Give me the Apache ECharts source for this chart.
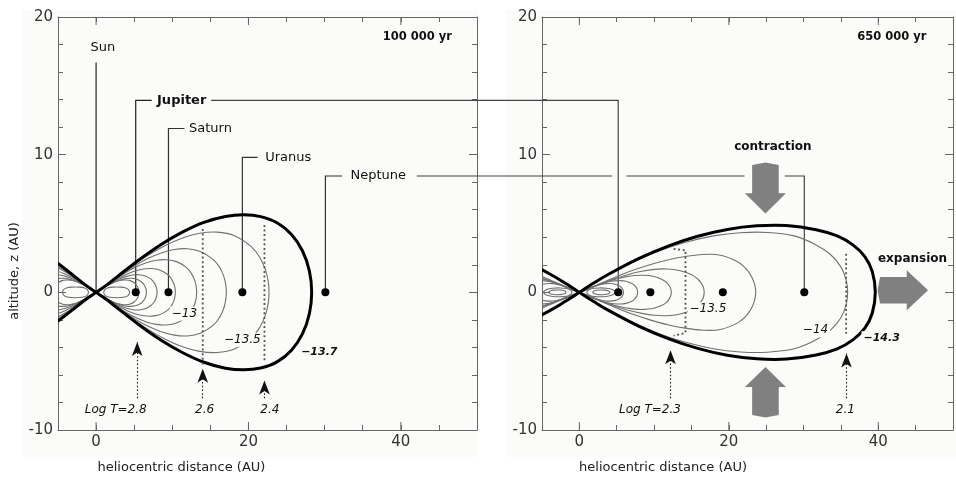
<!DOCTYPE html>
<html>
<head>
<meta charset="utf-8">
<script src="https://cdn.jsdelivr.net/npm/echarts@6/dist/echarts.min.js"></script>
<style>
  html, body { margin: 0; padding: 0; background: #ffffff; }
  #chart { width: 956px; height: 479px; }
</style>
</head>
<body>
<div id="chart"></div>
<script>
// ---------- tick labels ----------
const xTickLabels = [0, 20, 40];
const yTickLabels = [-10, 0, 10, 20];

// ---------- planets: heliocentric distance (AU), midplane ----------
const planetNames = ['Jupiter', 'Saturn', 'Uranus', 'Neptune'];
const planetAU = [5.2, 9.5, 19.2, 30.1];

// ---------- 100 000 yr: log density contours, upper half (r AU, z AU) ----------
const early137 = [[0,0],[1.42,0.54],[2.83,1.16],[5.66,2.37],[8.49,3.46],[11.32,4.37],[14.15,5.08],[16.98,5.51],[19.4,5.63],[21.6,5.5],[23.75,5.05],[25.65,4.2],[27.1,3.0],[28.0,1.55],[28.3,0]];
const early135 = [[0,0],[1.14,0.42],[2.27,0.9],[4.54,1.85],[6.81,2.69],[9.08,3.4],[11.35,3.95],[13.62,4.29],[15.89,4.37],[18.16,4.11],[20.43,3.29],[21.57,2.46],[22.25,1.6],[22.59,0.82],[22.7,0]];
const early1325 = [[0,0],[0.86,0.3],[1.71,0.65],[3.42,1.34],[5.13,1.95],[6.84,2.47],[8.55,2.86],[10.26,3.11],[11.97,3.17],[13.68,2.97],[15.39,2.38],[16.25,1.78],[16.76,1.16],[17.01,0.59],[17.1,0]];
const early13 = [[0,0],[0.66,0.23],[1.32,0.49],[2.64,1.0],[3.96,1.46],[5.28,1.85],[6.6,2.15],[7.92,2.33],[9.24,2.37],[10.56,2.23],[11.88,1.79],[12.54,1.34],[12.94,0.87],[13.13,0.44],[13.2,0]];
const early1275 = [[0,0],[0.52,0.17],[1.04,0.36],[2.08,0.73],[3.12,1.07],[4.16,1.35],[5.2,1.57],[6.24,1.7],[7.28,1.73],[8.32,1.63],[9.36,1.31],[9.88,0.98],[10.19,0.64],[10.35,0.32],[10.4,0]];
const early125 = [[0,0],[0.4,0.12],[0.8,0.26],[1.6,0.54],[2.4,0.79],[3.2,1.0],[4.0,1.16],[4.8,1.26],[5.6,1.28],[6.4,1.2],[7.2,0.96],[7.6,0.72],[7.84,0.47],[7.96,0.24],[8.0,0]];
const early1225 = [[0,0],[0.33,0.1],[0.66,0.21],[1.32,0.43],[1.98,0.63],[2.64,0.79],[3.3,0.92],[3.96,1.0],[4.62,1.02],[5.28,0.96],[5.94,0.77],[6.27,0.57],[6.47,0.37],[6.57,0.19],[6.6,0]];
const early12 = [[0,0],[0.28,0.09],[0.56,0.19],[1.12,0.38],[1.68,0.56],[2.24,0.7],[2.8,0.82],[3.36,0.89],[3.92,0.9],[4.48,0.85],[5.04,0.68],[5.32,0.51],[5.49,0.33],[5.57,0.17],[5.6,0]];
const earlyCore = [[1.0,0],[1.15,0.2],[1.5,0.32],[2.2,0.38],[3.2,0.38],[3.9,0.32],[4.25,0.2],[4.4,0]];

// ---------- 650 000 yr: log density contours, upper half ----------
const late143 = [[0,0],[1.98,0.69],[3.96,1.33],[7.92,2.45],[11.88,3.36],[15.84,4.07],[19.8,4.57],[23.76,4.83],[27.72,4.85],[31.68,4.55],[34.5,4.1],[36.6,3.45],[38.2,2.6],[39.2,1.5],[39.6,0]];
const late14 = [[0,0],[1.8,0.62],[3.59,1.19],[7.18,2.2],[10.77,3.02],[14.36,3.65],[17.95,4.1],[21.54,4.33],[25.13,4.35],[28.72,4.1],[31.5,3.5],[33.6,2.75],[35.0,1.85],[35.7,0.9],[35.9,0]];
const late1375 = [[0,0],[1.18,0.25],[2.36,0.53],[4.72,1.08],[7.08,1.58],[9.44,2.0],[11.8,2.35],[14.16,2.6],[16.52,2.75],[18.88,2.7],[21.24,2.2],[22.42,1.65],[23.13,1.05],[23.48,0.52],[23.6,0]];
const late135 = [[0,0],[0.84,0.16],[1.67,0.35],[3.34,0.72],[5.01,1.04],[6.68,1.32],[8.35,1.53],[10.02,1.67],[11.69,1.7],[13.36,1.59],[15.03,1.28],[15.87,0.95],[16.37,0.62],[16.62,0.32],[16.7,0]];
const late1325 = [[0,0],[0.62,0.12],[1.23,0.26],[2.46,0.53],[3.69,0.77],[4.92,0.97],[6.15,1.12],[7.38,1.22],[8.61,1.24],[9.84,1.17],[11.07,0.94],[11.69,0.7],[12.05,0.46],[12.24,0.23],[12.3,0]];
const late13 = [[0,0],[0.39,0.08],[0.78,0.18],[1.56,0.36],[2.34,0.52],[3.12,0.66],[3.9,0.77],[4.68,0.83],[5.46,0.85],[6.24,0.8],[7.02,0.64],[7.41,0.48],[7.64,0.31],[7.76,0.16],[7.8,0]];
const late1275 = [[0,0],[0.3,0.06],[0.59,0.13],[1.18,0.27],[1.77,0.39],[2.36,0.5],[2.95,0.58],[3.54,0.63],[4.13,0.64],[4.72,0.6],[5.31,0.48],[5.61,0.36],[5.78,0.24],[5.87,0.12],[5.9,0]];
const lateCoreA = [[1.0,0],[1.2,0.17],[1.7,0.28],[2.6,0.32],[3.6,0.3],[4.4,0.2],[4.8,0]];
const lateCoreB = [[1.8,0],[2.0,0.11],[2.6,0.17],[3.4,0.16],[3.9,0.1],[4.1,0]];

// ---------- isotherms (dotted) ----------
const isoEarly26 = [[14.0,4.6],[14.0,-5.3]];
const isoEarly24 = [[22.1,4.9],[22.1,-5.1]];
const isoLate23 = [[12.6,3.15],[14.2,3.05],[14.2,-2.95],[12.6,-3.15]];
const isoLate21 = [[35.7,2.8],[35.7,-3.0]];

// ---------- temperature markers ----------
const earlyLogT = ['Log T=2.8', '2.6', '2.4'];
const earlyLogTr = [5.4, 14.0, 22.1];
const earlyLogTtip = [-3.6, -5.55, -6.4];
const lateLogT = ['Log T=2.3', '2.1'];
const lateLogTr = [12.2, 35.75];
const lateLogTtip = [-4.2, -4.45];

const FONT = '"DejaVu Sans", sans-serif';
const AXIS_COLOR = '#666';
const THIN = '#707070';

// closed loop from an upper half (mirror in z)
function loop(up) {
  const lower = up.slice(0, -1).reverse().map(p => [p[0], -p[1]]);
  return up.concat(lower);
}
// same loop reflected to the other side of the star
function mirrorX(pts) { return pts.map(p => [-p[0], p[1]]); }

// Catmull-Rom spline through pixel points, as an SVG path string
function splinePath(px, closed) {
  const n = px.length;
  const get = i => closed ? px[(i + n) % n] : px[Math.max(0, Math.min(n - 1, i))];
  let d = 'M' + px[0][0] + ',' + px[0][1];
  const segs = closed ? n : n - 1;
  for (let i = 0; i < segs; i++) {
    const p0 = get(i - 1), p1 = get(i), p2 = get(i + 1), p3 = get(i + 2);
    const c1 = [p1[0] + (p2[0] - p0[0]) / 6, p1[1] + (p2[1] - p0[1]) / 6];
    const c2 = [p2[0] - (p3[0] - p1[0]) / 6, p2[1] - (p3[1] - p1[1]) / 6];
    d += ' C' + c1[0] + ',' + c1[1] + ' ' + c2[0] + ',' + c2[1] + ' ' + p2[0] + ',' + p2[1];
  }
  if (closed) d += ' Z';
  return d;
}

function axesFor(gridIndex) {
  const xBase = {
    gridIndex, type: 'value', min: -5, max: 50, interval: 5,
    axisLine: { show: true, onZero: false, lineStyle: { color: AXIS_COLOR, width: 1 } },
    axisTick: { show: true, inside: true, length: 5, lineStyle: { color: AXIS_COLOR } },
    splitLine: { show: false }
  };
  const yBase = {
    gridIndex, type: 'value', min: -10, max: 20, interval: 10,
    axisLine: { show: true, onZero: false, lineStyle: { color: AXIS_COLOR, width: 1 } },
    axisTick: { show: true, inside: true, length: 8, lineStyle: { color: AXIS_COLOR } },
    minorTick: { show: true, splitNumber: 5, length: 5, lineStyle: { color: AXIS_COLOR } },
    splitLine: { show: false }, minorSplitLine: { show: false }
  };
  const x = [
    Object.assign({}, xBase, { position: 'bottom',
      axisLabel: { show: true, margin: 5, fontSize: 15, color: '#333', fontFamily: FONT,
        formatter: v => (xTickLabels.indexOf(v) >= 0 ? String(v) : '') } }),
    Object.assign({}, xBase, { position: 'top', axisLabel: { show: false } })
  ];
  const y = [
    Object.assign({}, yBase, { position: 'left',
      axisLabel: { show: true, margin: 5, fontSize: 15, color: '#333', fontFamily: FONT,
        formatter: v => (yTickLabels.indexOf(v) >= 0 ? String(v) : '') } }),
    Object.assign({}, yBase, { position: 'right', axisLabel: { show: false } })
  ];
  return { x, y };
}

const a0 = axesFor(0), a1 = axesFor(1);

// one contour = one custom series, drawn as a smooth path through its points
function contourSeries(pts, axis, thick, closed) {
  const ring = closed ? pts.slice(0, -1) : pts;
  return {
    type: 'custom', xAxisIndex: axis, yAxisIndex: axis, silent: true, z: thick ? 4 : 3,
    data: ring,
    renderItem: (params, api) => {
      if (params.dataIndex !== 0) return null;
      const px = ring.map(p => api.coord(p));
      const cs = params.coordSys;
      return {
        type: 'group',
        clipPath: { type: 'rect', shape: { x: cs.x, y: cs.y, width: cs.width, height: cs.height } },
        children: [{
          type: 'path', shape: { pathData: splinePath(px, closed) },
          style: { stroke: thick ? '#000' : THIN, lineWidth: thick ? 3 : 1.1, fill: null }
        }]
      };
    }
  };
}

function contourPair(up, axis, thick, closed) {
  return [contourSeries(loop(up), axis, thick, closed), contourSeries(mirrorX(loop(up)), axis, thick, closed)];
}

function isoSeries(pts, axis, arrows) {
  return {
    type: 'line', xAxisIndex: axis, yAxisIndex: axis, symbol: 'none', silent: true, z: 5,
    data: pts, lineStyle: { color: '#555', width: 1.8, type: [2, 2.6] },
    markLine: arrows ? {
      silent: true, symbol: ['none', 'arrow'], symbolSize: [8, 14],
      label: { show: false },
      lineStyle: { color: '#111', width: 1.1, type: [1.5, 2.2] },
      data: arrows
    } : undefined
  };
}

function arrowData(rs, tips) {
  return rs.map((r, i) => [{ coord: [r, -7.7] }, { coord: [r, tips[i]] }]);
}

function majorTickSeries(axis) {
  return {
    type: 'custom', xAxisIndex: axis, yAxisIndex: axis, silent: true, z: 6,
    data: xTickLabels.map(v => [v, 0]),
    renderItem: (params, api) => {
      const x = api.value(0);
      const b = api.coord([x, -10]);
      const t = api.coord([x, 20]);
      return {
        type: 'group',
        children: [
          { type: 'line', shape: { x1: b[0], y1: b[1], x2: b[0], y2: b[1] - 8 }, style: { stroke: AXIS_COLOR, lineWidth: 1 } },
          { type: 'line', shape: { x1: t[0], y1: t[1], x2: t[0], y2: t[1] + 8 }, style: { stroke: AXIS_COLOR, lineWidth: 1 } }
        ]
      };
    }
  };
}

function planetSeries(axis) {
  return {
    type: 'scatter', xAxisIndex: axis, yAxisIndex: axis, silent: true, z: 8,
    symbolSize: 8, itemStyle: { color: '#000', opacity: 1 },
    data: planetAU.map((d, i) => ({ name: planetNames[i], value: [d, 0] }))
  };
}

const series = [].concat(
  [planetSeries(0)], // index 0
  [planetSeries(2)], // index 1
  contourPair(early137, 0, true, false),
  contourPair(early135, 0, false, false),
  contourPair(early1325, 0, false, false),
  contourPair(early13, 0, false, false),
  contourPair(early1275, 0, false, false),
  contourPair(early125, 0, false, false),
  contourPair(early1225, 0, false, false),
  contourPair(early12, 0, false, false),
  contourPair(earlyCore, 0, false, true),
  contourPair(late143, 2, true, false),
  contourPair(late14, 2, false, false),
  contourPair(late1375, 2, false, false),
  contourPair(late135, 2, false, false),
  contourPair(late1325, 2, false, false),
  contourPair(late13, 2, false, false),
  contourPair(late1275, 2, false, false),
  contourPair(lateCoreA, 2, false, true),
  contourPair(lateCoreB, 2, false, true),
  [isoSeries(isoEarly26, 0, arrowData(earlyLogTr, earlyLogTtip)),
   isoSeries(isoEarly24, 0, null),
   isoSeries(isoLate23, 2, arrowData(lateLogTr, lateLogTtip)),
   isoSeries(isoLate21, 2, null),
   majorTickSeries(0), majorTickSeries(2)]
);

const chart = echarts.init(document.getElementById('chart'), null, { renderer: 'canvas' });
chart.setOption({
  animation: false,
  backgroundColor: '#ffffff',
  grid: [
    { left: 58, top: 17, width: 419, height: 413, containLabel: false },
    { left: 542, top: 17, width: 423.5, height: 413, containLabel: false }
  ],
  xAxis: [a0.x[0], a0.x[1], a1.x[0], a1.x[1]],
  yAxis: [a0.y[0], a0.y[1], a1.y[0], a1.y[1]],
  series
});

// ---------- annotations placed from data coordinates ----------
const L = p => chart.convertToPixel({ seriesIndex: 0 }, p);
const R = p => chart.convertToPixel({ seriesIndex: 1 }, p);

function poly(points, color, width) {
  return { type: 'polyline', silent: true, z: 1, shape: { points },
    style: { stroke: color || '#333', lineWidth: width || 1.2, fill: null } };
}
function txt(p, text, opts) {
  return { type: 'text', silent: true, z: 20, x: p[0], y: p[1],
    style: Object.assign({ text, fontFamily: FONT, fontSize: 13, fill: '#111',
      align: 'left', verticalAlign: 'middle' }, opts || {}) };
}
function blockArrow(tip, pts) {
  return { type: 'polygon', silent: true, z: 15,
    shape: { points: pts.map(q => [tip[0] + q[0], tip[1] + q[1]]) },
    style: { fill: '#808080', stroke: null } };
}

const jup = planetAU[0], sat = planetAU[1], ura = planetAU[2], nep = planetAU[3];
const zJ = 13.95, zS = 11.9, zU = 9.8, zN = 8.45;

const g = [];
// panel backdrops
g.push({ type: 'rect', silent: true, z: -10, shape: { x: 22, y: 10, width: 455, height: 447 }, style: { fill: '#fbfbf9' } });
g.push({ type: 'rect', silent: true, z: -10, shape: { x: 506, y: 10, width: 450, height: 447 }, style: { fill: '#fbfbf9' } });

// leader lines
g.push(poly([L([0, 16.7]), L([0, 0])], '#222'));
g.push(poly([L([7.3, zJ]), L([jup, zJ]), L([jup, 0])], '#222'));
g.push(poly([L([15.1, zJ]), R([jup, zJ]), R([jup, 0])], '#444'));
g.push(poly([L([sat, 0]), L([sat, zS]), L([11.6, zS])], '#333'));
g.push(poly([L([ura, 0]), L([ura, zU]), L([21.2, zU])], '#333'));
g.push(poly([L([nep, 0]), L([nep, zN]), L([32.3, zN])], '#333'));
g.push(poly([L([42.1, zN]), R([4.4, zN])], '#444'));
g.push(poly([R([6.3, zN]), R([22.1, zN])], '#444'));
g.push(poly([R([27.5, zN]), R([nep, zN]), R([nep, 0])], '#444'));

// planet and star names
g.push(txt(L([0.9, 17.75]), 'Sun', { align: 'center' }));
g.push(txt(L([8.0, zJ]), 'Jupiter', { fontWeight: 'bold' }));
g.push(txt(L([12.2, zS]), 'Saturn'));
g.push(txt(L([22.2, zU]), 'Uranus'));
g.push(txt(L([33.4, zN]), 'Neptune'));

// epoch labels
g.push(txt(L([46.7, 18.54]), '100 000 yr', { align: 'right', fontWeight: 'bold', fontSize: 11.5 }));
g.push(txt(R([46.45, 18.54]), '650 000 yr', { align: 'right', fontWeight: 'bold', fontSize: 11.5 }));

// contour level labels
const boxed = { backgroundColor: '#fbfbf9', padding: [1, 2], fontStyle: 'italic', fontSize: 12, align: 'center' };
g.push(txt(L([11.6, -1.55]), '\u221213', boxed));
g.push(txt(L([19.2, -3.45]), '\u221213.5', boxed));
g.push(txt(L([29.3, -4.33]), '\u221213.7', Object.assign({}, boxed, { fontWeight: 'bold', fontSize: 11 })));
g.push(txt(R([17.2, -1.23]), '\u221213.5', boxed));
g.push(txt(R([31.6, -2.76]), '\u221214', boxed));
g.push(txt(R([40.45, -3.3]), '\u221214.3', Object.assign({}, boxed, { fontWeight: 'bold', fontSize: 11 })));

// temperature labels
const earlyLabelR = [2.57, 14.25, 22.8];
earlyLogT.forEach((s, i) => g.push(txt(L([earlyLabelR[i], -8.57]), s, { align: 'center', fontStyle: 'italic', fontSize: 12 })));
const lateLabelR = [9.44, 35.6];
lateLogT.forEach((s, i) => g.push(txt(R([lateLabelR[i], -8.57]), s, { align: 'center', fontStyle: 'italic', fontSize: 12 })));

// axis titles
g.push(txt(L([11.2, -12.7]), 'heliocentric distance (AU)', { align: 'center', fontSize: 13, fill: '#222' }));
g.push(txt(R([11.2, -12.7]), 'heliocentric distance (AU)', { align: 'center', fontSize: 13, fill: '#222' }));
g.push({ type: 'text', silent: true, z: 20, x: 15, y: 271, rotation: Math.PI / 2,
  style: { text: 'altitude, z (AU)', fontFamily: FONT, fontSize: 13, fill: '#222', align: 'center', verticalAlign: 'middle' } });

// contraction / expansion arrows
g.push(txt(R([25.9, 10.53]), 'contraction', { align: 'center', fontWeight: 'bold', fontSize: 12 }));
g.push(txt(R([39.96, 2.45]), 'expansion', { fontWeight: 'bold', fontSize: 12 }));
g.push(blockArrow(R([24.9, 5.72]), [[-13.3,-20.3],[-13.3,-48.5],[0,-51],[13.3,-48.5],[13.3,-20.3],[20.5,-20.3],[0,0],[-20.5,-20.3]]));
g.push(blockArrow(R([24.9, -5.42]), [[-13.3,20],[-13.3,48],[0,50.5],[13.3,48],[13.3,20],[20.5,20],[0,0],[-20.5,20]]));
g.push(blockArrow(R([46.66, 0.15]), [[-21.3,-13.3],[-48,-13.3],[-50.5,0],[-48,13.3],[-21.3,13.3],[-21.3,20],[0,0],[-21.3,-20]]));

chart.setOption({ graphic: { elements: g } });
</script>
</body>
</html>
